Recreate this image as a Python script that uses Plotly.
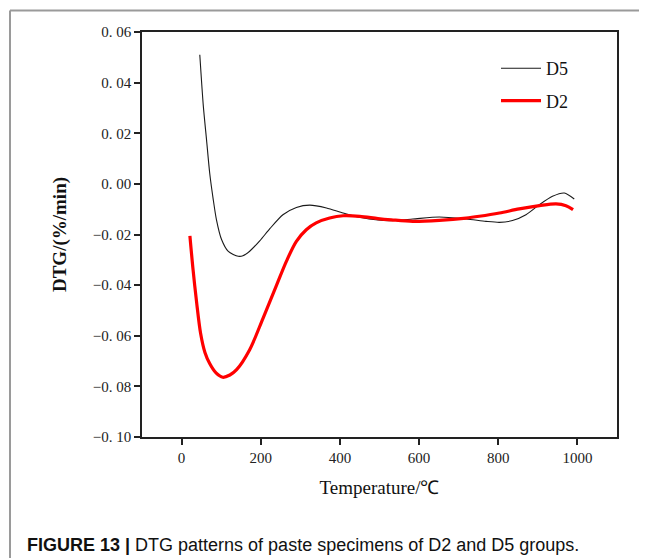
import plotly.graph_objects as go

# ---------------- data ----------------
d5_temp = [46, 55, 63, 71, 80, 88, 101, 118, 143, 155, 172, 198, 223, 256, 290,
           324, 366, 408, 450, 496, 530, 584, 651, 719, 769, 803, 836, 870, 904,
           937, 967, 992]
d5_dtg = [0.0510, 0.0306, 0.0175, 0.0043, -0.0062, -0.0141, -0.0220, -0.0267,
          -0.0286, -0.0284, -0.0266, -0.0224, -0.0177, -0.0122, -0.0093, -0.0084,
          -0.0095, -0.0115, -0.0132, -0.0143, -0.0145, -0.0139, -0.0131, -0.0139,
          -0.0148, -0.0152, -0.0145, -0.0122, -0.0082, -0.0049, -0.0036, -0.0060]

d2_temp = [21, 29, 38, 48, 59, 71, 87, 104, 122, 139, 172, 206, 240, 265, 290,
           315, 340, 374, 408, 450, 496, 530, 584, 651, 719, 752, 803, 853, 904,
           946, 971, 989]
d2_dtg = [-0.0205, -0.0339, -0.0468, -0.0590, -0.0666, -0.0710, -0.0747, -0.0764,
          -0.0755, -0.0734, -0.0655, -0.0530, -0.0400, -0.0305, -0.0227, -0.0181,
          -0.0154, -0.0135, -0.0126, -0.0128, -0.0137, -0.0142, -0.0148, -0.0144,
          -0.0135, -0.0128, -0.0115, -0.0099, -0.0086, -0.0079, -0.0086, -0.0102]

x_tickvals = [0, 200, 400, 600, 800, 1000]
x_ticktext = ["0", "200", "400", "600", "800", "1000"]
y_tickvals = [-0.10, -0.08, -0.06, -0.04, -0.02, 0.00, 0.02, 0.04, 0.06]
y_ticktext = ["\u22120. 10", "\u22120. 08", "\u22120. 06", "\u22120. 04", "\u22120. 02",
              "0. 00", "0. 02", "0. 04", "0. 06"]

caption = "<b>FIGURE 13 |</b> DTG patterns of paste specimens of D2 and D5 groups."

# ---------------- layout geometry ----------------
OFF = 8  # page body margin added by the browser
W, H = 647 - OFF, 558 - OFF
L, R, T, B = 142 - OFF, 30, 32 - OFF, 121
PW, PH = W - L - R, H - T - B


def px_x(px):
    return (px - OFF - L) / PW


def px_y(py):
    return (H - B - (py - OFF)) / PH


SERIF = "Liberation Serif, Times New Roman, serif"

fig = go.Figure()
fig.add_trace(go.Scatter(
    x=d5_temp, y=d5_dtg, mode="lines", name="D5",
    line=dict(color="#1a1a1a", width=1.1, shape="spline", smoothing=0.7),
    legendgroup="a",
))
fig.add_trace(go.Scatter(
    x=d2_temp, y=d2_dtg, mode="lines", name="D2",
    line=dict(color="#ff0000", width=3.2, shape="spline", smoothing=0.9),
    legendgroup="b",
))

axis_common = dict(
    showline=True, linecolor="#222222", linewidth=1.5, mirror=True,
    ticks="outside", ticklen=6, tickwidth=1.5, tickcolor="#222222",
    showgrid=False, zeroline=False,
    tickfont=dict(family=SERIF, size=15, color="#222222"),
)

fig.update_layout(
    width=W, height=H,
    margin=dict(l=L, r=R, t=T, b=B, autoexpand=False),
    paper_bgcolor="white", plot_bgcolor="white",
    xaxis=dict(range=[-100, 1100], tickvals=x_tickvals, ticktext=x_ticktext,
               title=dict(text="Temperature/\u2103", font=dict(family=SERIF, size=19, color="#111111"),
                          standoff=16),
               **axis_common),
    yaxis=dict(range=[-0.10, 0.06], tickvals=y_tickvals, ticktext=y_ticktext,
               title=dict(text="<b>DTG/(%/min)</b>", font=dict(family=SERIF, size=19, color="#111111"),
                          standoff=21),
               **axis_common),
    showlegend=True,
    legend=dict(
        x=px_x(496), y=px_y(50), xanchor="left", yanchor="top",
        bgcolor="rgba(0,0,0,0)", borderwidth=0,
        font=dict(family=SERIF, size=18, color="#111111"),
        itemwidth=40, traceorder="grouped", tracegroupgap=6,
    ),
)

# outer figure frame (grey), running off the right and bottom edges
fig.add_shape(type="line", xref="paper", yref="paper",
              x0=px_x(10), x1=px_x(10), y0=px_y(10.5), y1=px_y(600),
              line=dict(color="#9a9a9a", width=2))
fig.add_shape(type="line", xref="paper", yref="paper",
              x0=px_x(10), x1=px_x(700), y0=px_y(10.5), y1=px_y(10.5),
              line=dict(color="#9a9a9a", width=2))

fig.add_annotation(
    text=caption, xref="paper", yref="paper",
    x=px_x(25), y=px_y(545), xanchor="left", yanchor="middle",
    showarrow=False, font=dict(family="Liberation Sans, Arial, sans-serif", size=18, color="#111111"),
)

fig.write_html("out.html")
